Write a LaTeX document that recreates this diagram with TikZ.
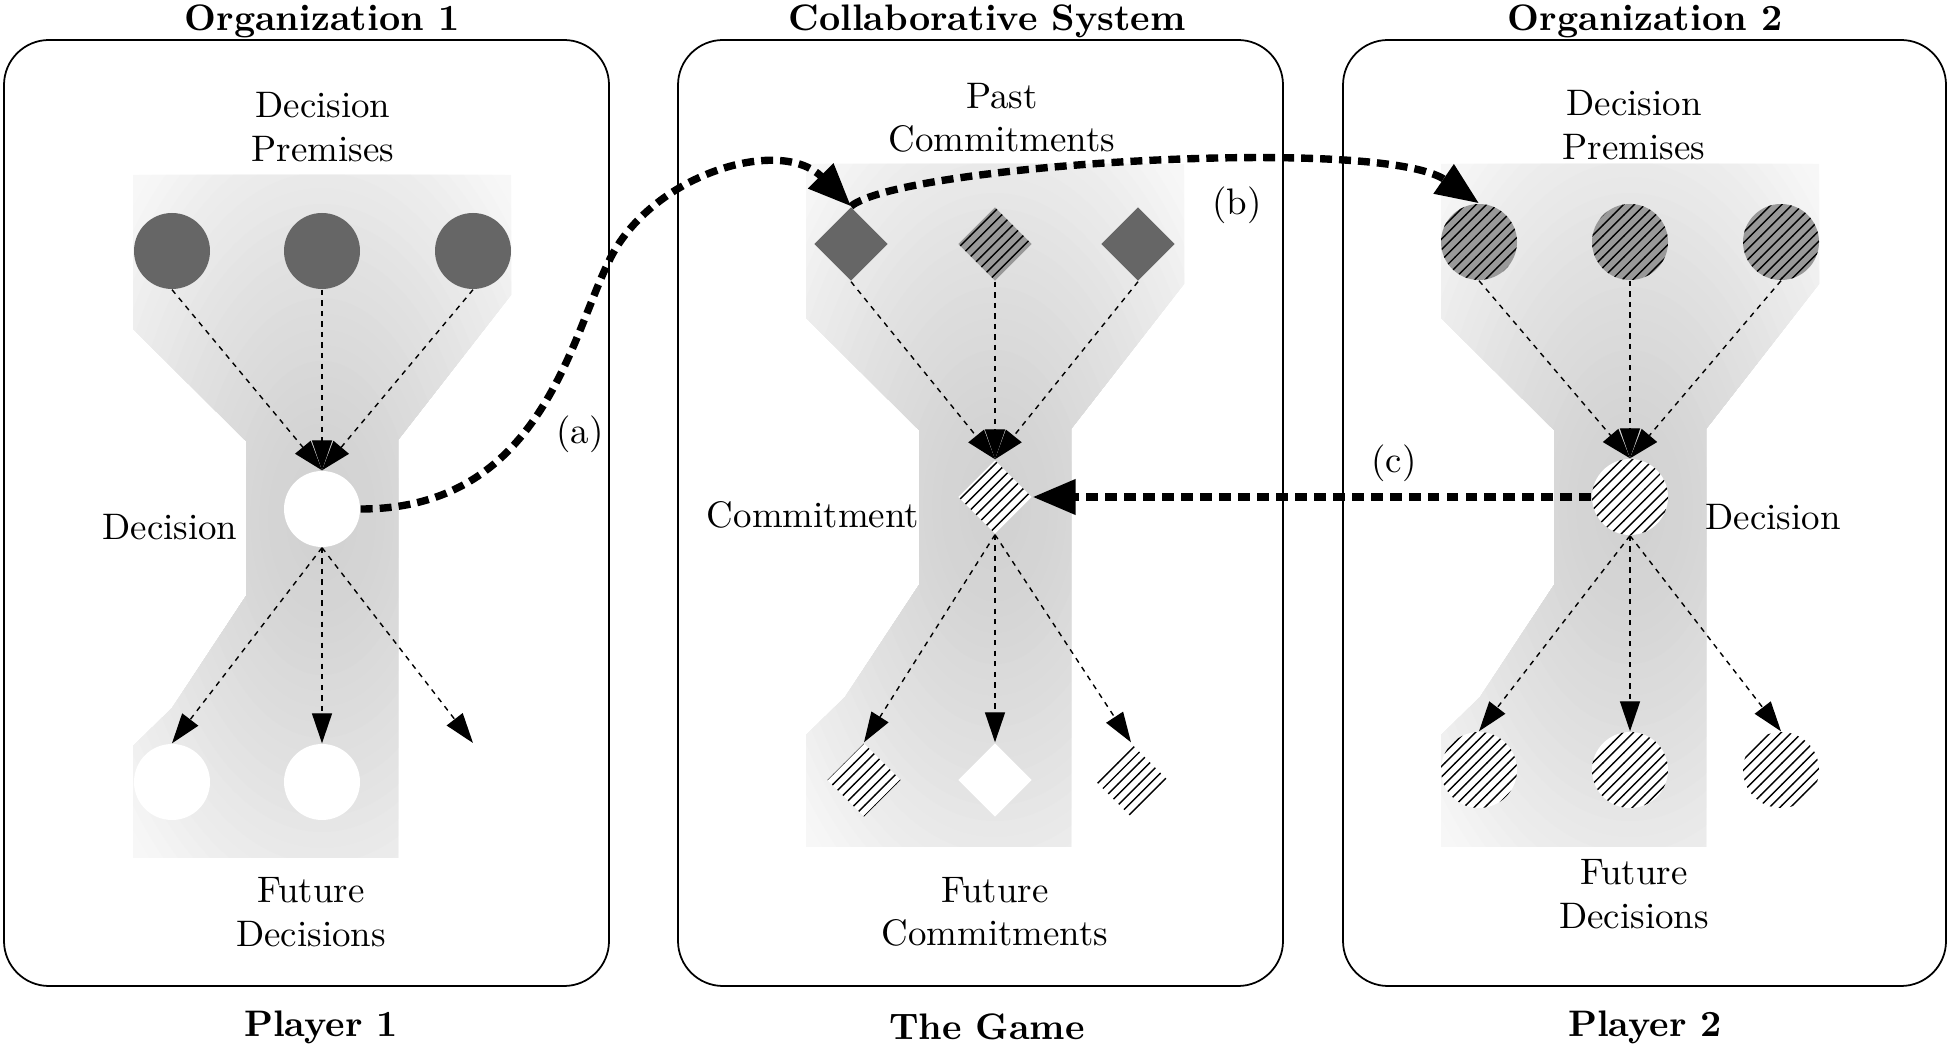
\documentclass[tikz,border=0pt]{standalone}
\usepackage{amsmath}
\usepackage{tikz}
\usetikzlibrary{arrows.meta,patterns,shapes.geometric}

\tikzset{
	circ/.style={shape=circle, inner sep=0pt, minimum size=7.6mm},
	diam/.style={shape=diamond, inner sep=0pt, minimum width=7.4mm, minimum height=7.4mm},
	dark/.style={fill=black!60},
	grayhatch/.style={preaction={fill=black!40}, pattern=north east lines},
	whitehatch/.style={preaction={fill=white}, pattern=north east lines},
	blank/.style={fill=white},
	flow/.style={-{Triangle[length=3mm,width=2mm]}, line width=0.4pt, dash pattern=on 1.5pt off 1.5pt},
	link/.style={-{Triangle[length=4.3mm,width=3.4mm]}, line width=2.1pt, dash pattern=on 3.4pt off 2pt},
	panel/.style={draw=black, rounded corners=4.5mm, line width=0.5pt},
	txt/.style={font=\fontsize{10.5}{12.4}\selectfont, align=center},
	head/.style={font=\fontsize{10.5}{12.4}\selectfont\bfseries}
}

% grey funnel behind the nodes of one column, shaded in rings
\newcommand{\hourglass}[1]{%
	\begin{scope}[shift={#1}]
		\clip (-189,-333) -- (189,-333) -- (189,-213) -- (76,-68) -- (76,350) -- (-189,350) -- (-189,238) -- (-150,200) -- (-76,88) -- (-76,-67) -- (-189,-179) -- cycle;
		\fill[black!3] (-200,-350) rectangle (200,360);
		\foreach \i in {30,29,...,1}{
			\pgfmathsetmacro{\tone}{18-15*(\i/30)^1.5}
			\fill[black!\tone] (0,10) ellipse ({26.73mm*\i/30} and {47.09mm*\i/30});
		}
	\end{scope}}

\begin{document}
\begin{tikzpicture}[x=0.1mm, y=-0.1mm]

	\useasboundingbox (0,0) rectangle (1950,1048);

	\draw[panel] (4,40) rectangle (609,986);
	\draw[panel] (678,40) rectangle (1283,986);
	\draw[panel] (1343,40) rectangle (1946,986);

	\hourglass{(322,508)}
	\hourglass{(995,497)}
	\hourglass{(1630,497)}

	\node[head] (t1) at (322, 21) {Organization 1};
	\node[head] (t2) at (987, 21) {Collaborative System};
	\node[head] (t3) at (1645, 21) {Organization 2};
	\node[head] (b1) at (321, 1027) {Player 1};
	\node[head] (b2) at (987, 1027) {The Game};
	\node[head] (b3) at (1645, 1027) {Player 2};

	% Organization 1
	\node[txt] (o1top) at (323, 127) {Decision\\Premises};
	\node[txt] (o1bot) at (311, 912) {Future\\Decisions};
	\node[txt] (o1lab) at (170, 527) {Decision};
	\node[circ, dark] (o1p1) at (172, 251) {};
	\node[circ, dark] (o1p2) at (322, 251) {};
	\node[circ, dark] (o1p3) at (473, 251) {};
	\node[circ, blank] (o1dec) at (322, 509) {};
	\node[circ, blank] (o1f1) at (172, 782) {};
	\node[circ, blank] (o1f2) at (322, 782) {};
	\coordinate (o1f3) at (473, 743);

	% Collaborative System
	\node[txt] (cstop) at (1002, 118) {Past\\Commitments};
	\node[txt] (csbot) at (995, 912) {Future\\Commitments};
	\node[txt] (cslab) at (813, 515) {Commitment};
	\node[diam, dark] (csp1) at (851, 244) {};
	\node[diam, grayhatch] (csp2) at (995, 244) {};
	\node[diam, dark] (csp3) at (1138, 244) {};
	\node[diam, whitehatch] (cscom) at (995, 497) {};
	\node[diam, whitehatch] (csf1) at (864, 780) {};
	\node[diam, blank] (csf2) at (995, 780) {};
	\node[diam, whitehatch] (csf3) at (1131, 780) {};

	% Organization 2
	\node[txt] (o2top) at (1634, 125) {Decision\\Premises};
	\node[txt] (o2bot) at (1634, 894) {Future\\Decisions};
	\node[txt] (o2lab) at (1773, 517) {Decision};
	\node[circ, grayhatch] (o2p1) at (1479, 242) {};
	\node[circ, grayhatch] (o2p2) at (1630, 242) {};
	\node[circ, grayhatch] (o2p3) at (1781, 242) {};
	\node[circ, whitehatch] (o2dec) at (1630, 497) {};
	\node[circ, whitehatch] (o2f1) at (1479, 770) {};
	\node[circ, whitehatch] (o2f2) at (1630, 770) {};
	\node[circ, whitehatch] (o2f3) at (1781, 770) {};

	\node[txt] (la) at (580, 434) {(a)};
	\node[txt] (lb) at (1237, 205) {(b)};
	\node[txt] (lc) at (1394, 463) {(c)};

	\path[flow] (o1p1.south) edge (o1dec.north);
	\path[flow] (o1p2.south) edge (o1dec.north);
	\path[flow] (o1p3.south) edge (o1dec.north);
	\path[flow] (o1dec.south) edge (o1f1.north);
	\path[flow] (o1dec.south) edge (o1f2.north);
	\path[flow] (o1dec.south) edge (o1f3);

	\path[flow] (csp1.south) edge (cscom.north);
	\path[flow] (csp2.south) edge (cscom.north);
	\path[flow] (csp3.south) edge (cscom.north);
	\path[flow] (cscom.south) edge (csf1.north);
	\path[flow] (cscom.south) edge (csf2.north);
	\path[flow] (cscom.south) edge (csf3.north);

	\path[flow] (o2p1.south) edge (o2dec.north);
	\path[flow] (o2p2.south) edge (o2dec.north);
	\path[flow] (o2p3.south) edge (o2dec.north);
	\path[flow] (o2dec.south) edge (o2f1.north);
	\path[flow] (o2dec.south) edge (o2f2.north);
	\path[flow] (o2dec.south) edge (o2f3.north);

	\draw[link] (o1dec.east) .. controls (540,509) and (570,340) .. (609,261) .. controls (650,175) and (780,135) .. (csp1.north);
	\draw[link] (csp1.north) .. controls (900,165) and (1380,135) .. (o2p1.north);
	\draw[link] (o2dec.west) -- (cscom.east);

\end{tikzpicture}
\end{document}
